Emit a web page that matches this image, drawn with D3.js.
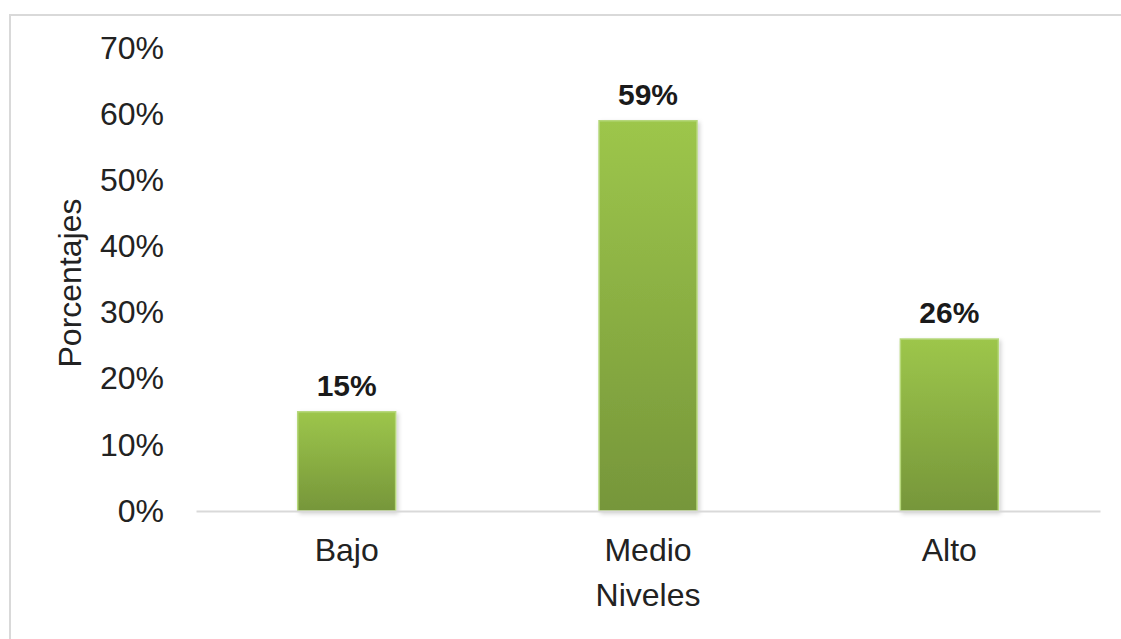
<!DOCTYPE html>
<html>
<head>
<meta charset="utf-8">
<script src="https://cdn.jsdelivr.net/npm/d3@7/dist/d3.min.js"></script>
<style>
  html, body { margin: 0; padding: 0; background: #fff; }
  svg { display: block; font-family: "Liberation Sans", Arial, sans-serif; }
</style>
</head>
<body>
<svg id="chart" width="1121" height="639"></svg>
<script>
const categories = ["Bajo", "Medio", "Alto"];
const values = [15, 59, 26];
const yTicks = [0, 10, 20, 30, 40, 50, 60, 70];
const xTitle = "Niveles";
const yTitle = "Porcentajes";

const svg = d3.select("#chart");
const W = 1121, H = 639;
const plot = { left: 196, right: 1100, top: 48, bottom: 511 };

// chart frame
svg.append("rect")
  .attr("x", 10).attr("y", 15)
  .attr("width", W + 10).attr("height", H + 10)
  .attr("fill", "#fff").attr("stroke", "#d9d9d9").attr("stroke-width", 2);

const x = d3.scaleBand().domain(categories)
  .range([plot.left, plot.right]).paddingInner(0.675).paddingOuter(0.3375);
const y = d3.scaleLinear().domain([0, 70]).range([plot.bottom, plot.top]);

const defs = svg.append("defs");
const grad = defs.append("linearGradient").attr("id", "barGrad")
  .attr("x1", 0).attr("y1", 0).attr("x2", 0).attr("y2", 1);
grad.append("stop").attr("offset", "0%").attr("stop-color", "#9dc64b");
grad.append("stop").attr("offset", "100%").attr("stop-color", "#76963a");

const shadow = defs.append("filter").attr("id", "shadow")
  .attr("x", "-10%").attr("y", "-10%").attr("width", "130%").attr("height", "130%");
shadow.append("feDropShadow").attr("dx", 2).attr("dy", 2)
  .attr("stdDeviation", 2).attr("flood-color", "#000").attr("flood-opacity", 0.18);

// y tick labels
const yAxis = d3.axisLeft(y).tickValues(yTicks).tickSize(0).tickPadding(0)
  .tickFormat(d => d + "%");
const yg = svg.append("g").attr("transform", `translate(164,0)`).call(yAxis);
yg.select(".domain").remove();
yg.selectAll("text").attr("font-size", 32).attr("fill", "#222")
  .attr("font-family", "Liberation Sans, Arial, sans-serif");

// bars
svg.append("g").selectAll("rect").data(values).join("rect")
  .attr("x", (d, i) => x(categories[i]))
  .attr("y", d => y(d))
  .attr("width", x.bandwidth())
  .attr("height", d => y(0) - y(d))
  .attr("fill", "url(#barGrad)")
  .attr("stroke", "#b5d77a").attr("stroke-width", 1.5)
  .attr("filter", "url(#shadow)");

// x axis
const xAxis = d3.axisBottom(x).tickSize(0).tickPadding(27);
const xg = svg.append("g").attr("transform", `translate(0,${plot.bottom})`).call(xAxis);
xg.select(".domain").attr("stroke", "#d9d9d9").attr("stroke-width", 2);
xg.selectAll("text").attr("font-size", 32).attr("fill", "#222")
  .attr("font-family", "Liberation Sans, Arial, sans-serif");

// value labels
svg.append("g").selectAll("text").data(values).join("text")
  .attr("x", (d, i) => x(categories[i]) + x.bandwidth() / 2)
  .attr("y", d => y(d) - 16)
  .attr("text-anchor", "middle")
  .attr("font-size", 30).attr("font-weight", "bold").attr("fill", "#1a1a1a")
  .text(d => d + "%");

// axis titles
svg.append("text")
  .attr("x", (plot.left + plot.right) / 2).attr("y", 606)
  .attr("text-anchor", "middle").attr("font-size", 32).attr("fill", "#222")
  .text(xTitle);
svg.append("text")
  .attr("transform", `translate(81,283) rotate(-90)`)
  .attr("text-anchor", "middle").attr("font-size", 32).attr("fill", "#222")
  .text(yTitle);
</script>
</body>
</html>
